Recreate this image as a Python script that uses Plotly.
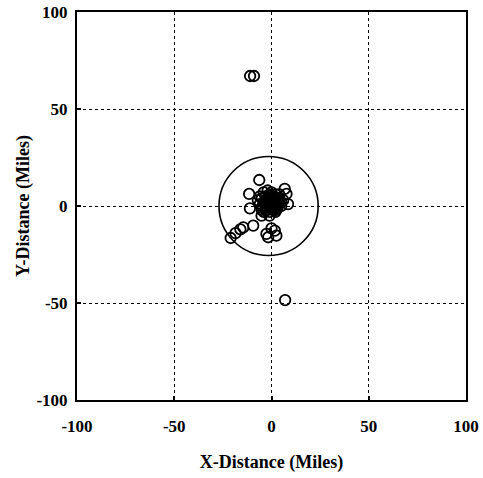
import plotly.graph_objects as go

# Observed points (miles)
x_dist = [-11, -9, 7,
          -6.3, -11.5, -11.1, 6.8, 7.7, 8.5,
          -21, -18.5, -16, -14.5, -9.4,
          -2.6, 1.7, 2.5, -1.7, 0.0, -5.1,
          -5, -3, -1, 1, 3, 4, 2, 0, -2, -4, -6, -5, -3, -1, 1, 3, 5, 2, -1, 0, -2, 1, -3, 0, 2, -4, 4, -6, 6, -1,
          -7, -4, -2, 0, 2, 4, -3, -1, 1, 3, -5, 5, -2, 0.5,
          -1.5, 0.5, 2.5, -3.5, -0.5, 1.5, 3.5, -2.5, -4.5, 0.5, 2.5, -1.5]
y_dist = [67, 67, -48.5,
          13.4, 6.2, -1.2, 8.8, 6.2, 1.0,
          -16.5, -14, -12, -11, -10.1,
          -14.4, -12.7, -15.3, -16.1, -11.5, -5,
          4, 5, 6, 5, 4, 2, 1, 0, 1, 2, 1, -1, -2, -3, -2, -1, 0, 3, 2, -1, -2, 1, 3, 3, -3, -3, 4, 5, 3, -5,
          3, 7, 8, 7, 6, 6, 0, -1, 0, 1, -2, 2, 4, 4,
          0.5, 1.5, 2.5, 1.5, 3.5, 4.5, 0.5, -0.5, 0, -1.5, -2, 5.5]

ring_center = (-1.5, 0.0)
ring_radius = 25.5

tick_vals = [-100, -50, 0, 50, 100]
tick_text = ["-100", "-50", "0", "50", "100"]

font_family = "Liberation Serif"

fig = go.Figure()
fig.add_trace(go.Scatter(
    x=x_dist, y=y_dist, mode="markers",
    marker=dict(symbol="circle-open", size=10.5, color="black", line=dict(width=1.8, color="black")),
    showlegend=False, hoverinfo="skip",
))

fig.add_shape(type="circle", xref="x", yref="y",
              x0=ring_center[0] - ring_radius, x1=ring_center[0] + ring_radius,
              y0=ring_center[1] - ring_radius, y1=ring_center[1] + ring_radius,
              line=dict(color="black", width=1.6))

axis_common = dict(
    range=[-100, 100], tickvals=tick_vals, ticktext=tick_text,
    showgrid=True, gridcolor="black", griddash="dot", gridwidth=1.3,
    zeroline=False, showline=True, linecolor="black", linewidth=2, mirror=True,
    ticks="inside", ticklen=4, tickcolor="black", tickwidth=1.5,
    tickfont=dict(family=font_family, size=17, color="black", weight="bold"),
    title_font=dict(family=font_family, size=18, color="black", weight="bold"),
    automargin=False, ticklabeloverflow="allow",
)

fig.update_xaxes(**axis_common, title_text="X-Distance (Miles)", title_standoff=20,
                 ticklabelstandoff=10)
fig.update_yaxes(**axis_common, title_text="Y-Distance (Miles)", title_standoff=2,
                 ticklabelstandoff=4)

fig.update_layout(
    width=483, height=478,
    margin=dict(l=77, r=17, t=12, b=78),
    plot_bgcolor="white", paper_bgcolor="white",
)

# remove the browser's default page margin so the figure fills the window exactly
fig.write_html("out.html", config={"displayModeBar": False},
               post_script="document.body.style.margin='0';document.body.style.overflow='hidden';")
